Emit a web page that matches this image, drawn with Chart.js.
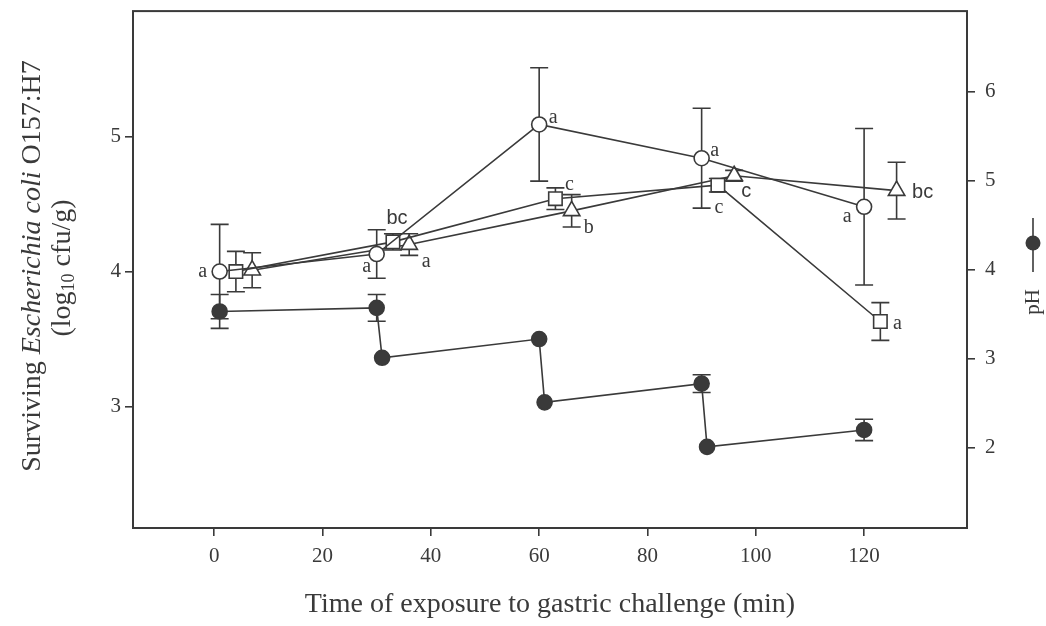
<!DOCTYPE html>
<html lang="en">
<head>
    <meta charset="UTF-8">
    <title>E. coli O157:H7 under gastric challenge</title>
    <style>
        body { margin: 0; background: #fff; }
    </style>
    <script src="https://cdn.jsdelivr.net/npm/chart.js"></script>
</head>
<body>
    <canvas id="chart" width="1046" height="626"></canvas>

    <script>
        // Sampling times (min); the three treatments are staggered slightly
        const timeCircle = [1, 30, 60, 90, 120];
        const timeSquare = [4, 33, 63, 93, 123];
        const timeTriangle = [7, 36, 66, 96, 126];
        const timePH = [1, 30, 31, 60, 61, 90, 91, 120];

        // Surviving E. coli O157:H7 (log10 cfu/g) with error
        const circleVals = [4.00, 4.13, 5.09, 4.84, 4.48];
        const circleErr = [0.35, 0.18, 0.42, 0.37, 0.58];
        const squareVals = [4.00, 4.22, 4.54, 4.64, 3.63];
        const squareErr = [0.15, 0.06, 0.08, 0.05, 0.14];
        const triangleVals = [4.01, 4.20, 4.45, 4.71, 4.60];
        const triangleErr = [0.13, 0.08, 0.12, 0.04, 0.21];

        // pH of the simulated gastric fluid
        const phVals = [3.53, 3.57, 3.01, 3.22, 2.51, 2.72, 2.01, 2.20];
        const phErr = [0.19, 0.15, 0, 0, 0, 0.10, 0, 0.12];

        // Tick values
        const xTicks = [0, 20, 40, 60, 80, 100, 120];
        const yTicks = [3, 4, 5];
        const phTicks = [2, 3, 4, 5, 6];

        // Significance letters per series
        const circleLetters = ['a', 'a', 'a', 'a', 'a'];
        const squareLetters = ['', 'bc', 'c', 'c', 'a'];
        const triangleLetters = ['', 'a', 'b', 'c', 'bc'];

        const ink = '#3a3a3a';
        const serif = '"Liberation Serif", "Times New Roman", serif';
        const sans = '"Liberation Sans", Arial, sans-serif';

        function toPoints(xs, ys) {
            return xs.map((x, i) => ({ x: x, y: ys[i] }));
        }

        // where each letter sits relative to its point (px)
        const letterPlacement = [
            { ds: 0, idx: [[-17, 0], [-10, 13], [14, -7], [13, -7], [-17, 10]] },
            { ds: 1, idx: [null, [4, -23], [14, -14], [1, 23], [17, 2]] },
            { ds: 2, idx: [null, [17, 17], [17, 17], [12, 16], [26, 2]] }
        ];
        const sansLetters = { '1-1': true, '2-3': true, '2-4': true };

        // Vertical error bars, drawn under the markers
        const errorBars = {
            id: 'errorBars',
            beforeDatasetsDraw(chart) {
                const ctx = chart.ctx;
                const xs = chart.scales.x;
                ctx.save();
                ctx.strokeStyle = ink;
                ctx.lineWidth = 1.6;
                chart.data.datasets.forEach(ds => {
                    if (!ds.errors) return;
                    const ys = chart.scales[ds.yAxisID];
                    ds.data.forEach((p, i) => {
                        const e = ds.errors[i];
                        if (!e) return;
                        const px = xs.getPixelForValue(p.x);
                        const top = ys.getPixelForValue(p.y + e);
                        const bot = ys.getPixelForValue(p.y - e);
                        const w = 9;
                        ctx.beginPath();
                        ctx.moveTo(px, top); ctx.lineTo(px, bot);
                        ctx.moveTo(px - w, top); ctx.lineTo(px + w, top);
                        ctx.moveTo(px - w, bot); ctx.lineTo(px + w, bot);
                        ctx.stroke();
                    });
                });
                ctx.restore();
            }
        };

        // Frame, axis titles, pH key and letters
        const decorations = {
            id: 'decorations',
            afterDraw(chart) {
                const ctx = chart.ctx;
                const a = chart.chartArea;
                ctx.save();
                ctx.strokeStyle = ink;
                ctx.lineWidth = 2;
                ctx.strokeRect(a.left, a.top, a.right - a.left, a.bottom - a.top);

                ctx.fillStyle = ink;
                ctx.textBaseline = 'middle';

                // x title
                ctx.font = '28px ' + serif;
                ctx.textAlign = 'center';
                ctx.fillText('Time of exposure to gastric challenge (min)', (a.left + a.right) / 2, 605);

                // y title, two lines rotated
                const drawRuns = (runs, cx, cy) => {
                    ctx.save();
                    ctx.translate(cx, cy);
                    ctx.rotate(-Math.PI / 2);
                    ctx.textAlign = 'left';
                    let total = 0;
                    runs.forEach(r => { ctx.font = r.font; r.w = ctx.measureText(r.t).width; total += r.w; });
                    let x = -total / 2;
                    runs.forEach(r => { ctx.font = r.font; ctx.fillText(r.t, x, r.dy || 0); x += r.w; });
                    ctx.restore();
                };
                drawRuns([
                    { t: 'Surviving ', font: '28px ' + serif },
                    { t: 'Escherichia coli', font: 'italic 28px ' + serif },
                    { t: ' O157:H7', font: '28px ' + serif }
                ], 33, 266);
                drawRuns([
                    { t: '(log', font: '28px ' + serif },
                    { t: '10', font: '18px ' + serif, dy: 6 },
                    { t: ' cfu/g)', font: '28px ' + serif }
                ], 63, 268);

                // right-hand key: symbol with bar plus "pH"
                ctx.lineWidth = 1.6;
                ctx.beginPath();
                ctx.moveTo(1033, 218); ctx.lineTo(1033, 272);
                ctx.stroke();
                ctx.beginPath();
                ctx.arc(1033, 243, 7.5, 0, Math.PI * 2);
                ctx.fill();
                drawRuns([{ t: 'pH', font: '21px ' + serif }], 1033, 302);

                // significance letters
                const xs = chart.scales.x;
                const ys = chart.scales.y;
                letterPlacement.forEach(lp => {
                    const ds = chart.data.datasets[lp.ds];
                    ds.letters.forEach((txt, i) => {
                        if (!txt || !lp.idx[i]) return;
                        const px = xs.getPixelForValue(ds.data[i].x) + lp.idx[i][0];
                        const py = ys.getPixelForValue(ds.data[i].y) + lp.idx[i][1];
                        ctx.font = sansLetters[lp.ds + '-' + i] ? '20px ' + sans : '20px ' + serif;
                        ctx.textAlign = 'center';
                        ctx.fillText(txt, px, py);
                    });
                });
                ctx.restore();
            }
        };

        const lineStyle = {
            showLine: true,
            borderColor: ink,
            borderWidth: 1.6,
            pointBorderColor: ink,
            pointBorderWidth: 1.6,
            pointBackgroundColor: '#fff'
        };

        const keepTicks = list => scale => {
            scale.ticks = list.filter(v => v >= scale.min && v <= scale.max).map(v => ({ value: v }));
        };

        // fixed axis sizes, and no extra room reserved for half tick labels
        const fitY = w => s => { s.width = w; s.paddingTop = 0; s.paddingBottom = 0; };

        const tickFont = { family: serif, size: 21 };

        new Chart(document.getElementById('chart').getContext('2d'), {
            type: 'scatter',
            data: {
                datasets: [
                    Object.assign({}, lineStyle, {
                        label: 'Circle', data: toPoints(timeCircle, circleVals), errors: circleErr,
                        letters: circleLetters, yAxisID: 'y', pointStyle: 'circle', pointRadius: 7.5
                    }),
                    Object.assign({}, lineStyle, {
                        label: 'Square', data: toPoints(timeSquare, squareVals), errors: squareErr,
                        letters: squareLetters, yAxisID: 'y', pointStyle: 'rect', pointRadius: 9.5
                    }),
                    Object.assign({}, lineStyle, {
                        label: 'Triangle', data: toPoints(timeTriangle, triangleVals), errors: triangleErr,
                        letters: triangleLetters, yAxisID: 'y', pointStyle: 'triangle', pointRadius: 9.5
                    }),
                    Object.assign({}, lineStyle, {
                        label: 'pH', data: toPoints(timePH, phVals), errors: phErr,
                        yAxisID: 'y1', pointStyle: 'circle', pointRadius: 7.5,
                        pointBackgroundColor: ink
                    })
                ]
            },
            options: {
                responsive: false,
                animation: false,
                devicePixelRatio: 1,
                layout: { padding: { top: 8, left: 0, right: 0, bottom: 0 } },
                plugins: { legend: { display: false }, tooltip: { enabled: false } },
                scales: {
                    x: {
                        type: 'linear', min: -15, max: 139,
                        afterBuildTicks: keepTicks(xTicks),
                        afterFit: s => { s.height = 98; },
                        border: { display: false },
                        grid: { drawOnChartArea: false, drawTicks: true, tickLength: 8, color: ink, lineWidth: 1.6 },
                        ticks: { color: ink, font: tickFont, padding: 8, maxRotation: 0 }
                    },
                    y: {
                        position: 'left', min: 2.1, max: 5.93,
                        afterBuildTicks: keepTicks(yTicks),
                        afterFit: fitY(133),
                        border: { display: false },
                        grid: { drawOnChartArea: false, drawTicks: true, tickLength: 8, color: ink, lineWidth: 1.6 },
                        ticks: { color: ink, font: tickFont, padding: 4 }
                    },
                    y1: {
                        position: 'right', min: 1.1, max: 6.9,
                        afterBuildTicks: keepTicks(phTicks),
                        afterFit: fitY(79),
                        border: { display: false },
                        grid: { drawOnChartArea: false, drawTicks: true, tickLength: 8, color: ink, lineWidth: 1.6 },
                        ticks: { color: ink, font: tickFont, padding: 10 }
                    }
                }
            },
            plugins: [errorBars, decorations]
        });
    </script>
</body>
</html>
